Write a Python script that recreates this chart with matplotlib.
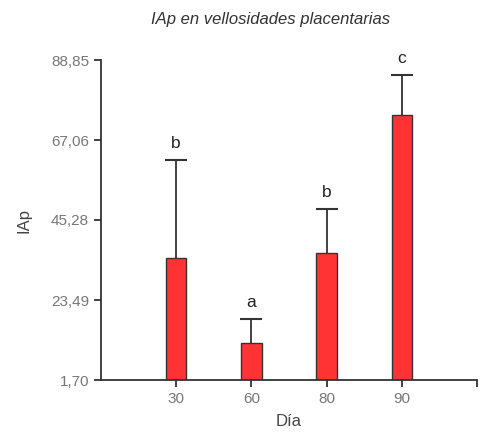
import matplotlib
matplotlib.use("Agg")
import matplotlib.pyplot as plt

days = ["30", "60", "80", "90"]
means = [34.9, 11.9, 36.2, 73.9]
errors = [26.6, 6.4, 12.0, 10.9]
letters = ["b", "a", "b", "c"]
yticks = [1.70, 23.49, 45.28, 67.06, 88.85]
ytick_labels = ["1,70", "23,49", "45,28", "67,06", "88,85"]

plt.rcParams['font.family'] = ['Liberation Sans', 'DejaVu Sans']

fig = plt.figure(figsize=(4.79, 4.34), dpi=100)
ax = fig.add_axes([0.2109, 0.1244, 0.785, 0.7373])

x = list(range(len(days)))
tops = [m + e for m, e in zip(means, errors)]
ax.bar(x, means, width=0.27, color="#ff3333", edgecolor="#333333", linewidth=1.0, zorder=2)
ax.errorbar(x, means, yerr=[[0]*len(errors), errors], fmt="none", ecolor="#333333",
            elinewidth=1.3, capsize=0, zorder=1)
ax.plot(x, tops, linestyle="none", marker="_", markersize=16, markeredgewidth=1.5,
        color="#333333", zorder=1)
for xi, t, l in zip(x, tops, letters):
    ax.text(xi, t + 2.5, l, ha="center", va="bottom", fontsize=12.5, color="#222222")

ax.set_xlim(-1, 4)
ax.set_ylim(1.70, 88.85)
ax.set_yticks(yticks)
ax.set_yticklabels(ytick_labels)
ax.set_xticks(x + [4])
ax.set_xticklabels(days + [""])

for s in ["top", "right"]:
    ax.spines[s].set_visible(False)
for s in ["left", "bottom"]:
    ax.spines[s].set_color("#333333")
    ax.spines[s].set_linewidth(1.3)
ax.tick_params(axis="both", colors="#333333", labelcolor="#777777", labelsize=11,
               length=5, width=1.3, direction="out")

ax.set_xlabel("Día", fontsize=12, color="#444444", labelpad=6)
ax.set_ylabel("IAp", fontsize=12, color="#444444", labelpad=14)
fig.text(0.565, 0.955, "IAp en vellosidades placentarias", ha="center", va="center",
         fontsize=12, style="italic", color="#333333")

fig.savefig("out.png", dpi=100)
